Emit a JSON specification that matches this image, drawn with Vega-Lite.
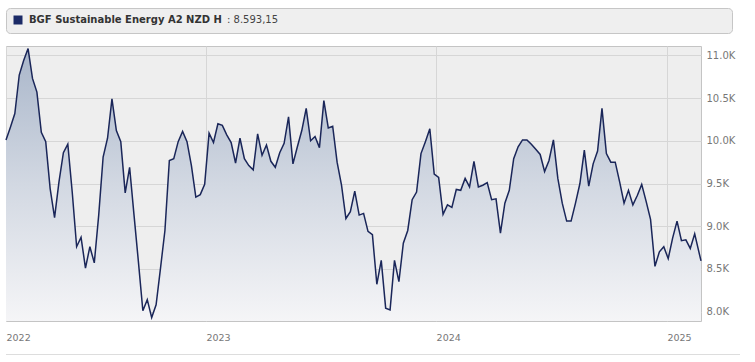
{
  "$schema": "https://vega.github.io/schema/vega-lite/v6.json",
  "padding": {"left": 2, "top": 7, "right": 0, "bottom": 0},
  "autosize": {"type": "pad"},
  "background": "white",
  "config": {"font": "DejaVu Sans", "concat": {"spacing": 11}},
  "spacing": 11,
  "datasets": {
    "header": [{"series": "BGF Sustainable Energy A2 NZD H"}],
    "prices": [
      {"date": "2022-02-18", "value": 10010},
      {"date": "2022-02-25", "value": 10160},
      {"date": "2022-03-04", "value": 10320},
      {"date": "2022-03-11", "value": 10770},
      {"date": "2022-03-18", "value": 10940},
      {"date": "2022-03-25", "value": 11080},
      {"date": "2022-04-01", "value": 10730},
      {"date": "2022-04-08", "value": 10570},
      {"date": "2022-04-15", "value": 10100},
      {"date": "2022-04-22", "value": 9990},
      {"date": "2022-04-29", "value": 9440},
      {"date": "2022-05-06", "value": 9100},
      {"date": "2022-05-13", "value": 9520},
      {"date": "2022-05-20", "value": 9860},
      {"date": "2022-05-27", "value": 9960},
      {"date": "2022-06-03", "value": 9400},
      {"date": "2022-06-10", "value": 8760},
      {"date": "2022-06-17", "value": 8870},
      {"date": "2022-06-24", "value": 8510},
      {"date": "2022-07-01", "value": 8760},
      {"date": "2022-07-08", "value": 8570},
      {"date": "2022-07-15", "value": 9130},
      {"date": "2022-07-22", "value": 9810},
      {"date": "2022-07-29", "value": 10030},
      {"date": "2022-08-05", "value": 10490},
      {"date": "2022-08-12", "value": 10120},
      {"date": "2022-08-19", "value": 9990},
      {"date": "2022-08-26", "value": 9390},
      {"date": "2022-09-02", "value": 9690},
      {"date": "2022-09-09", "value": 9130},
      {"date": "2022-09-16", "value": 8580},
      {"date": "2022-09-23", "value": 8010},
      {"date": "2022-09-30", "value": 8140},
      {"date": "2022-10-07", "value": 7930},
      {"date": "2022-10-14", "value": 8080},
      {"date": "2022-10-21", "value": 8510},
      {"date": "2022-10-28", "value": 8950},
      {"date": "2022-11-04", "value": 9770},
      {"date": "2022-11-11", "value": 9790},
      {"date": "2022-11-18", "value": 9990},
      {"date": "2022-11-25", "value": 10110},
      {"date": "2022-12-02", "value": 9990},
      {"date": "2022-12-09", "value": 9710},
      {"date": "2022-12-16", "value": 9340},
      {"date": "2022-12-23", "value": 9370},
      {"date": "2022-12-30", "value": 9490},
      {"date": "2023-01-06", "value": 10090},
      {"date": "2023-01-13", "value": 9980},
      {"date": "2023-01-20", "value": 10200},
      {"date": "2023-01-27", "value": 10180},
      {"date": "2023-02-03", "value": 10070},
      {"date": "2023-02-10", "value": 9980},
      {"date": "2023-02-17", "value": 9740},
      {"date": "2023-02-24", "value": 10030},
      {"date": "2023-03-03", "value": 9790},
      {"date": "2023-03-10", "value": 9710},
      {"date": "2023-03-17", "value": 9660},
      {"date": "2023-03-24", "value": 10080},
      {"date": "2023-03-31", "value": 9830},
      {"date": "2023-04-07", "value": 9950},
      {"date": "2023-04-14", "value": 9760},
      {"date": "2023-04-21", "value": 9690},
      {"date": "2023-04-28", "value": 9860},
      {"date": "2023-05-05", "value": 9970},
      {"date": "2023-05-12", "value": 10280},
      {"date": "2023-05-19", "value": 9730},
      {"date": "2023-05-26", "value": 9930},
      {"date": "2023-06-02", "value": 10120},
      {"date": "2023-06-09", "value": 10380},
      {"date": "2023-06-16", "value": 10000},
      {"date": "2023-06-23", "value": 10050},
      {"date": "2023-06-30", "value": 9920},
      {"date": "2023-07-07", "value": 10470},
      {"date": "2023-07-14", "value": 10150},
      {"date": "2023-07-21", "value": 10170},
      {"date": "2023-07-28", "value": 9750},
      {"date": "2023-08-04", "value": 9480},
      {"date": "2023-08-11", "value": 9090},
      {"date": "2023-08-18", "value": 9170},
      {"date": "2023-08-25", "value": 9410},
      {"date": "2023-09-01", "value": 9130},
      {"date": "2023-09-08", "value": 9150},
      {"date": "2023-09-15", "value": 8940},
      {"date": "2023-09-22", "value": 8900},
      {"date": "2023-09-29", "value": 8320},
      {"date": "2023-10-06", "value": 8600},
      {"date": "2023-10-13", "value": 8040},
      {"date": "2023-10-20", "value": 8020},
      {"date": "2023-10-27", "value": 8600},
      {"date": "2023-11-03", "value": 8350},
      {"date": "2023-11-10", "value": 8800},
      {"date": "2023-11-17", "value": 8950},
      {"date": "2023-11-24", "value": 9310},
      {"date": "2023-12-01", "value": 9400},
      {"date": "2023-12-08", "value": 9850},
      {"date": "2023-12-15", "value": 9990},
      {"date": "2023-12-22", "value": 10140},
      {"date": "2023-12-29", "value": 9610},
      {"date": "2024-01-05", "value": 9570},
      {"date": "2024-01-12", "value": 9140},
      {"date": "2024-01-19", "value": 9250},
      {"date": "2024-01-26", "value": 9220},
      {"date": "2024-02-02", "value": 9430},
      {"date": "2024-02-09", "value": 9420},
      {"date": "2024-02-16", "value": 9560},
      {"date": "2024-02-23", "value": 9460},
      {"date": "2024-03-01", "value": 9760},
      {"date": "2024-03-08", "value": 9460},
      {"date": "2024-03-15", "value": 9480},
      {"date": "2024-03-22", "value": 9510},
      {"date": "2024-03-29", "value": 9310},
      {"date": "2024-04-05", "value": 9320},
      {"date": "2024-04-12", "value": 8920},
      {"date": "2024-04-19", "value": 9270},
      {"date": "2024-04-26", "value": 9420},
      {"date": "2024-05-03", "value": 9790},
      {"date": "2024-05-10", "value": 9930},
      {"date": "2024-05-17", "value": 10010},
      {"date": "2024-05-24", "value": 10010},
      {"date": "2024-05-31", "value": 9960},
      {"date": "2024-06-07", "value": 9900},
      {"date": "2024-06-14", "value": 9840},
      {"date": "2024-06-21", "value": 9640},
      {"date": "2024-06-28", "value": 9770},
      {"date": "2024-07-05", "value": 10010},
      {"date": "2024-07-12", "value": 9560},
      {"date": "2024-07-19", "value": 9270},
      {"date": "2024-07-26", "value": 9060},
      {"date": "2024-08-02", "value": 9060},
      {"date": "2024-08-09", "value": 9270},
      {"date": "2024-08-16", "value": 9500},
      {"date": "2024-08-23", "value": 9890},
      {"date": "2024-08-30", "value": 9470},
      {"date": "2024-09-06", "value": 9730},
      {"date": "2024-09-13", "value": 9880},
      {"date": "2024-09-20", "value": 10380},
      {"date": "2024-09-27", "value": 9850},
      {"date": "2024-10-04", "value": 9750},
      {"date": "2024-10-11", "value": 9750},
      {"date": "2024-10-18", "value": 9520},
      {"date": "2024-10-25", "value": 9270},
      {"date": "2024-11-01", "value": 9420},
      {"date": "2024-11-08", "value": 9250},
      {"date": "2024-11-15", "value": 9360},
      {"date": "2024-11-22", "value": 9490},
      {"date": "2024-11-29", "value": 9290},
      {"date": "2024-12-06", "value": 9080},
      {"date": "2024-12-13", "value": 8530},
      {"date": "2024-12-20", "value": 8700},
      {"date": "2024-12-27", "value": 8760},
      {"date": "2025-01-03", "value": 8620},
      {"date": "2025-01-10", "value": 8860},
      {"date": "2025-01-17", "value": 9060},
      {"date": "2025-01-24", "value": 8830},
      {"date": "2025-01-31", "value": 8840},
      {"date": "2025-02-07", "value": 8740},
      {"date": "2025-02-14", "value": 8910},
      {"date": "2025-02-24", "value": 8593.15}
    ]
  },
  "vconcat": [
    {
      "width": 726,
      "height": 25,
      "data": {"name": "header"},
      "view": {"fill": "#efefef", "stroke": "#c6c6c6", "cornerRadius": 4},
      "mark": {"type": "point", "opacity": 0, "filled": true},
      "encoding": {
        "color": {
          "field": "series",
          "type": "nominal",
          "scale": {"range": ["#1b2a66"]},
          "legend": {
            "orient": "top-left",
            "offset": 7,
            "padding": 0,
            "title": ": 8.593,15",
            "titleOrient": "right",
            "titleFontWeight": "normal",
            "titleFontSize": 10,
            "titleColor": "#444444",
            "titlePadding": 5,
            "titleBaseline": "middle",
            "symbolType": "square",
            "symbolSize": 81,
            "symbolOpacity": 1,
            "symbolStrokeWidth": 0,
            "labelFontWeight": "bold",
            "labelFontSize": 10,
            "labelColor": "#333333",
            "labelLimit": 0,
            "labelOffset": 6
          }
        }
      }
    },
    {
      "width": 695,
      "height": 275,
      "data": {"name": "prices"},
      "view": {"fill": "#eeeeee", "stroke": "#c4c4c4"},
      "encoding": {
        "x": {
          "field": "date",
          "type": "temporal",
          "scale": {"type": "utc"},
          "axis": {
            "values": [
              {"year": 2022, "month": 2, "date": 18, "utc": true},
              {"year": 2023, "month": 1, "date": 1, "utc": true},
              {"year": 2024, "month": 1, "date": 1, "utc": true},
              {"year": 2025, "month": 1, "date": 1, "utc": true}
            ],
            "format": "%Y",
            "title": null,
            "domain": false,
            "ticks": false,
            "grid": true,
            "gridColor": "#d6d6d6",
            "labelAlign": "left",
            "labelFlush": false,
            "labelPadding": 11,
            "labelFontSize": 9.5,
            "labelColor": "#777777"
          }
        },
        "y": {
          "field": "value",
          "type": "quantitative",
          "scale": {"domain": [7890, 11110], "zero": false, "nice": false, "clamp": true},
          "axis": {
            "orient": "right",
            "values": [8000, 8500, 9000, 9500, 10000, 10500, 11000],
            "labelExpr": "format(datum.value / 1000, '.1f') + 'K'",
            "title": null,
            "domain": false,
            "ticks": false,
            "grid": true,
            "gridColor": "#d6d6d6",
            "labelPadding": 5,
            "labelFontSize": 10,
            "labelColor": "#777777"
          }
        }
      },
      "layer": [
        {
          "mark": {
            "type": "area",
            "color": {
              "gradient": "linear",
              "x1": 0, "y1": 0, "x2": 0, "y2": 1,
              "stops": [
                {"offset": 0, "color": "#a9b6ca"},
                {"offset": 0.5, "color": "#d2d8e2"},
                {"offset": 1, "color": "#f5f5f7"}
              ]
            }
          }
        },
        {
          "mark": {"type": "line", "color": "#1a2659", "strokeWidth": 1.5}
        }
      ]
    },
    {
      "width": 734,
      "height": 1,
      "data": {"name": "header"},
      "view": {"fill": "#dddddd", "stroke": null},
      "mark": {"type": "rule", "opacity": 0},
      "encoding": {}
    }
  ],
  "resolve": {"scale": {"color": "independent"}, "legend": {"color": "independent"}}
}
